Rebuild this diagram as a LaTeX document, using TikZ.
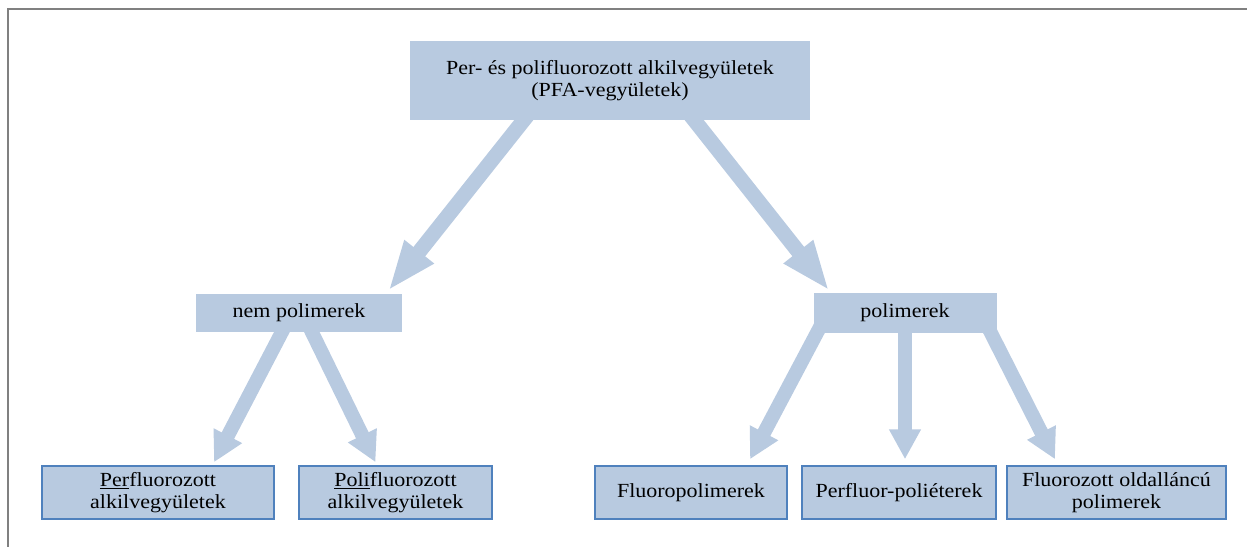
\documentclass[tikz,border=0pt]{standalone}
\usepackage{fontspec}
\setmainfont[FakeStretch=1.1]{Liberation Serif}
\usetikzlibrary{arrows.meta, calc, backgrounds}
\definecolor{boxblue}{RGB}{184,202,224}
\definecolor{edgeblue}{RGB}{79,129,189}
\definecolor{framegray}{RGB}{128,128,128}
\tikzset{
  group/.style={fill=boxblue, align=center, inner sep=0pt},
  leaf/.style={fill=boxblue, draw=edgeblue, line width=1.5pt, align=center, inner sep=0pt, minimum height=53pt},
  bigflow/.style={draw=boxblue, line width=15pt, -{Triangle[length=50pt, width=34pt]}},
  flow/.style={draw=boxblue, line width=14pt, -{Triangle[length=30pt, width=30pt]}}
}

\begin{document}
\begin{tikzpicture}[x=1pt, y=-1pt, font=\fontsize{20}{22.5}\selectfont]
\useasboundingbox (0,0) rectangle (1247,547);
\draw[framegray, line width=2pt] (1247,9) -- (8,9) -- (8,547);

\node[group, minimum width=400pt, minimum height=79pt] (pfa) at (610,80.5) {Per- és polifluorozott alkilvegyületek\\(PFA-vegyületek)};
\node[group, minimum width=206pt, minimum height=38pt] (nonpoly) at (299,313) {nem polimerek};
\node[group, minimum width=183pt, minimum height=40pt] (poly) at (905,313) {polimerek};

\node[leaf, minimum width=232pt] (perfl) at (158,492.5) {\underline{Per}fluorozott\\alkilvegyületek};
\node[leaf, minimum width=193pt] (polifl) at (395.5,492.5) {\underline{Poli}fluorozott\\alkilvegyületek};
\node[leaf, minimum width=192pt] (fluoro) at (691,492.5) {Fluoropolimerek};
\node[leaf, minimum width=194pt] (ether) at (899,492.5) {Perfluor-poliéterek};
\node[leaf, minimum width=219pt] (side) at (1116.5,492.5) {Fluorozott oldalláncú\\polimerek};

\begin{scope}[on background layer]
\draw[bigflow] ($(pfa.south)+(-80,-8)$) -- ($(nonpoly.north east)+(-14,-3)$);
\draw[bigflow] ($(pfa.south)+(78,-8)$) -- ($(poly.north west)+(16,-2)$);
\draw[flow] ($(nonpoly.south)+(-13,-8)$) -- ($(perfl.north)+(56,-3)$);
\draw[flow] ($(nonpoly.south)+(9,-8)$) -- ($(polifl.north)+(-20,-3)$);
\draw[flow] ($(poly.south)+(-84,-8)$) -- ($(fluoro.north)+(59,-6)$);
\draw[flow] ($(poly.south)+(0,-8)$) -- ($(ether.north)+(6,-6)$);
\draw[flow] ($(poly.south)+(82,-8)$) -- ($(side.north)+(-61.5,-6)$);
\end{scope}
\end{tikzpicture}
\end{document}
